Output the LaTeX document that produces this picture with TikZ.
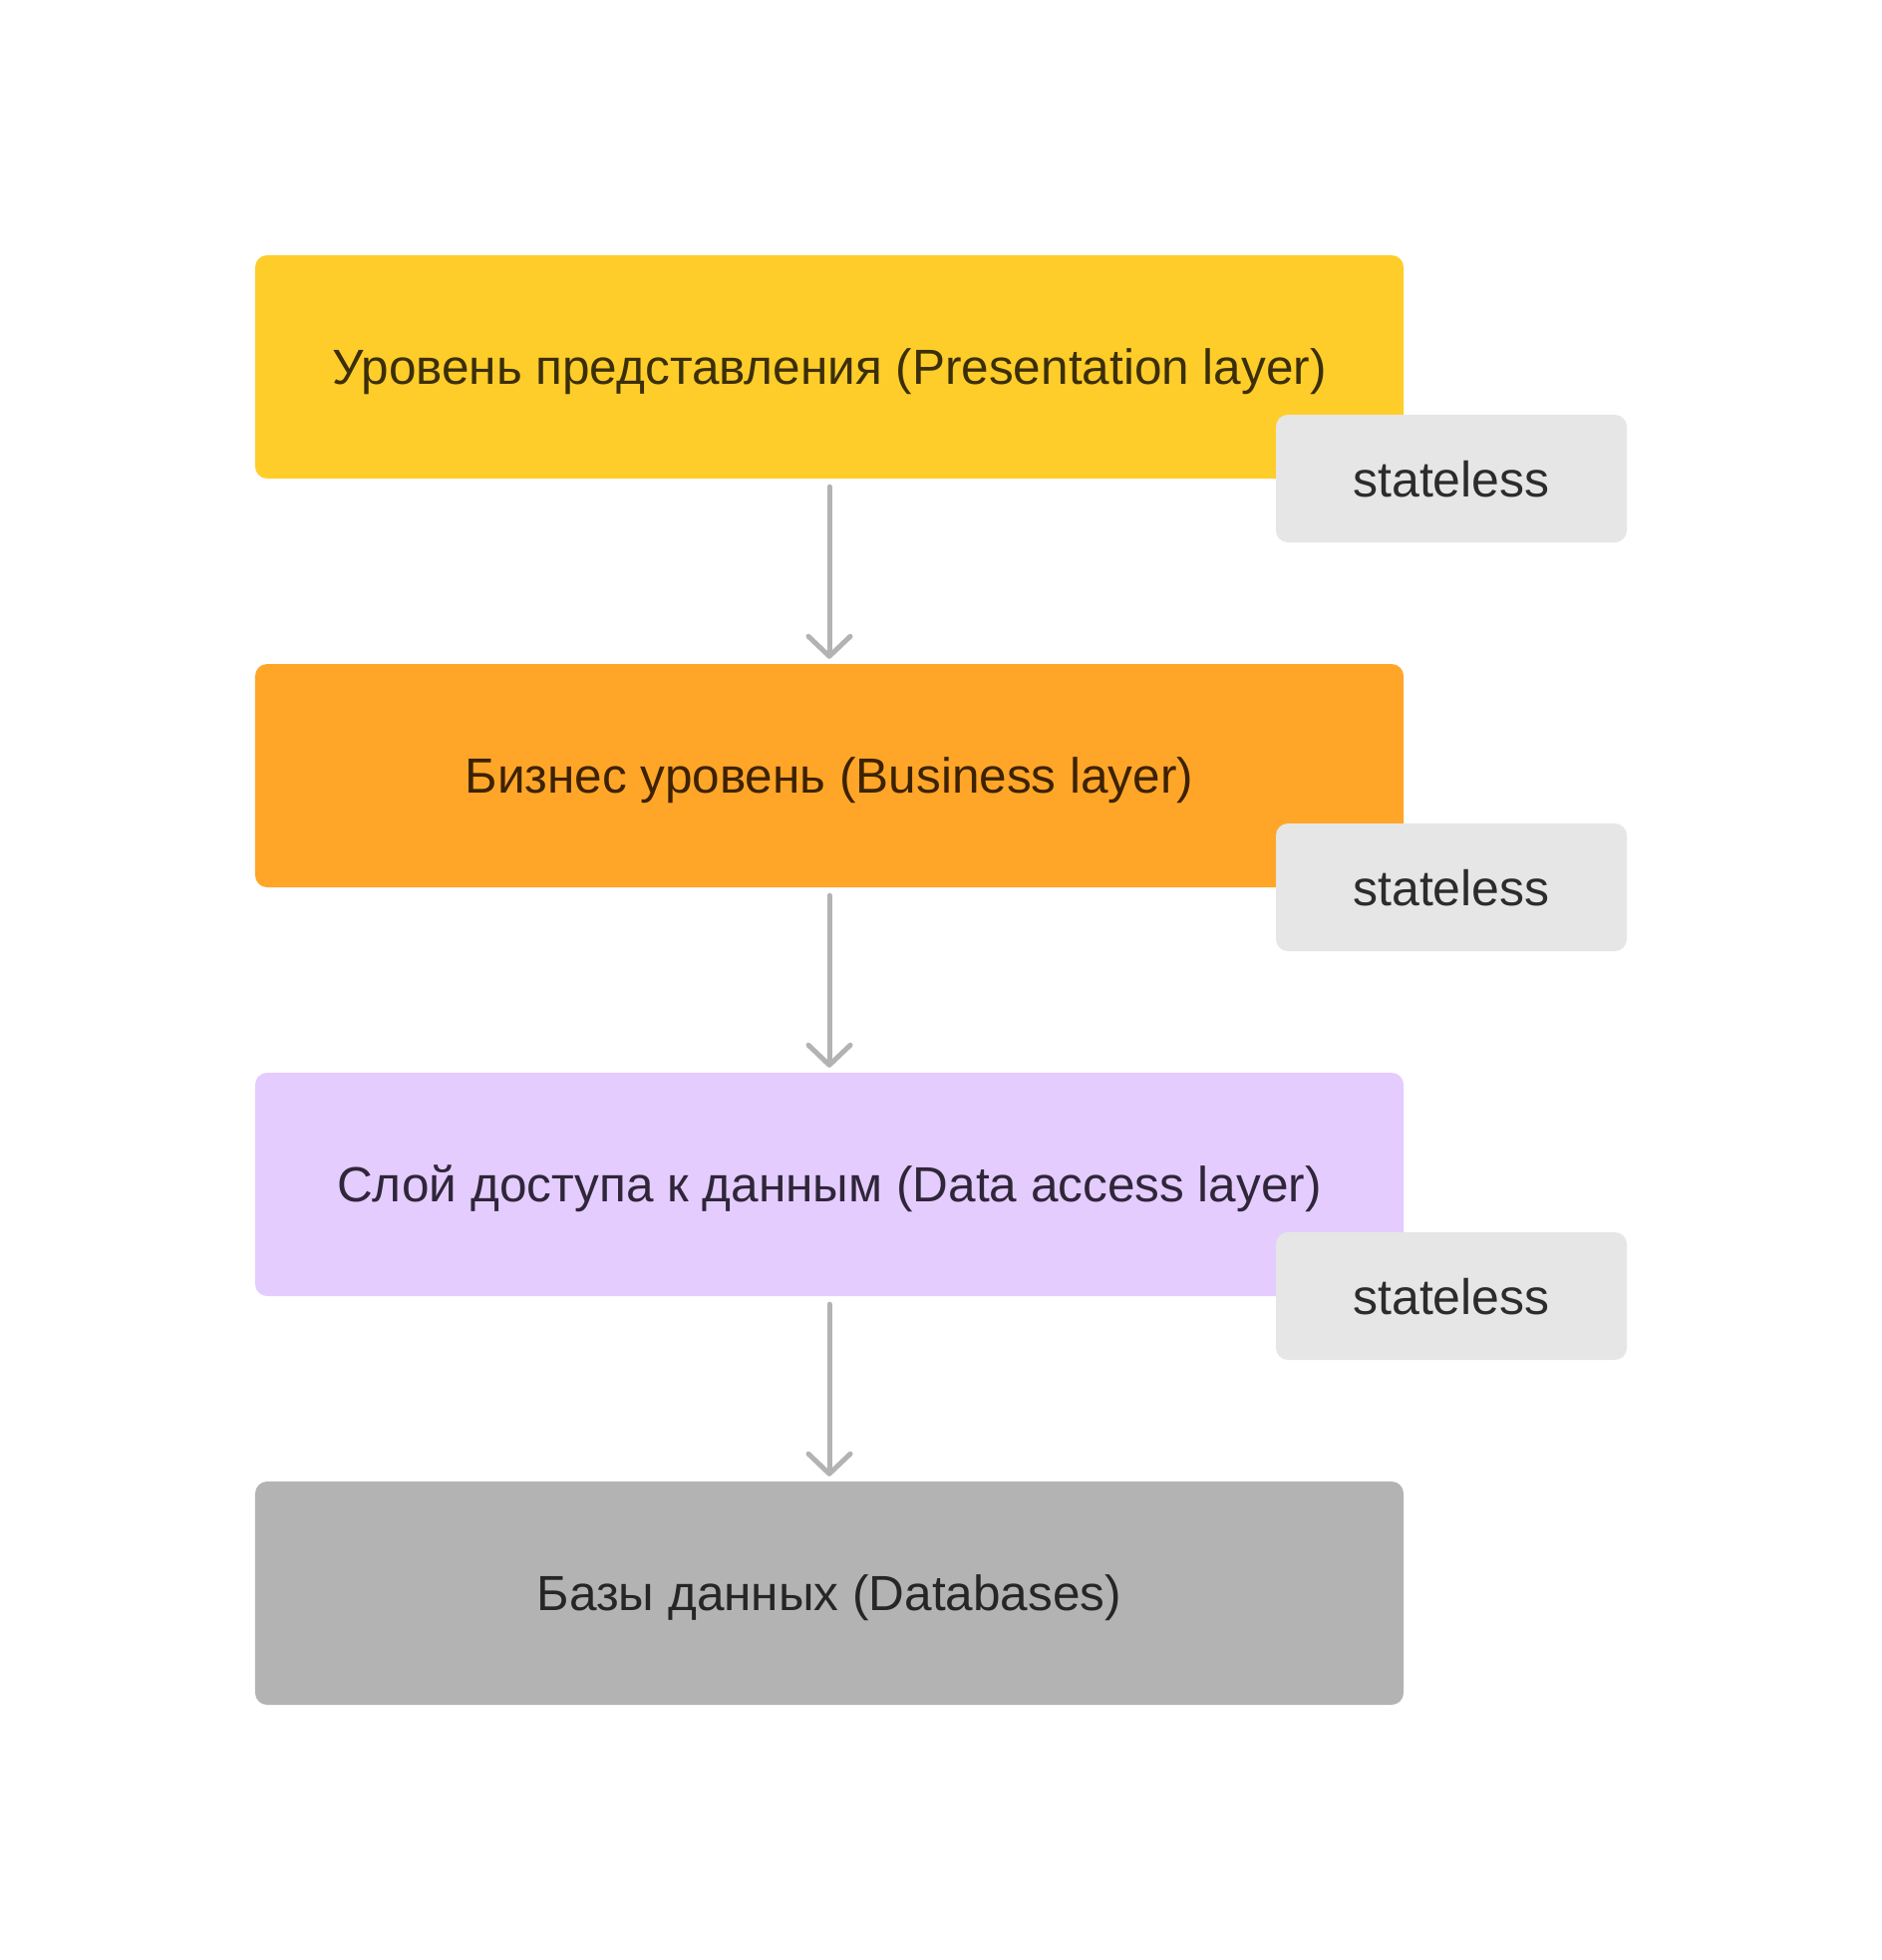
\documentclass[tikz,border=0pt]{standalone}
\usepackage{fontspec}
\setmainfont{Liberation Sans}
\usetikzlibrary{arrows.meta}
\definecolor{cyellow}{HTML}{FFCD29}
\definecolor{corange}{HTML}{FFA629}
\definecolor{cpurple}{HTML}{E4CCFF}
\definecolor{cgray}{HTML}{B3B3B3}
\definecolor{clight}{HTML}{E6E6E6}
\definecolor{tyellow}{HTML}{3B2F0A}
\definecolor{torange}{HTML}{3D2200}
\definecolor{tpurple}{HTML}{2F2639}
\definecolor{tgray}{HTML}{262626}
\definecolor{ttag}{HTML}{2C2C2C}
\begin{document}
\begin{tikzpicture}[x=1bp,y=-1bp,
  layerbox/.style={rounded corners=12bp, minimum width=1152bp, minimum height=224bp,
    inner sep=0pt, text height=35bp, text depth=0pt,
    font=\fontsize{49.5bp}{58bp}\selectfont},
  tagbox/.style={fill=clight, rounded corners=12bp, minimum width=352bp, minimum height=128bp,
    inner sep=0pt, text height=36bp, text depth=0pt, text=ttag,
    font=\fontsize{50bp}{60bp}\selectfont},
  flow/.style={draw=cgray, line width=5bp, line cap=round,
    -{Straight Barb[length=20bp, width=42bp, round]},
    shorten <=8bp, shorten >=5bp}]
\useasboundingbox (0,0) rectangle (1888,1966);
\fill[white] (0,0) rectangle (1888,1966);
\node[layerbox, fill=cyellow, text=tyellow] (pres) at (832,368) {Уровень представления (Presentation layer)};
\node[layerbox, fill=corange, text=torange] (bus) at (832,778) {Бизнес уровень (Business layer)};
\node[layerbox, fill=cpurple, text=tpurple] (dal) at (832,1188) {Слой доступа к данным (Data access layer)};
\node[layerbox, fill=cgray, text=tgray] (db) at (832,1598) {Базы данных (Databases)};
\node[tagbox] (t1) at (1456,480) {stateless};
\node[tagbox] (t2) at (1456,890) {stateless};
\node[tagbox] (t3) at (1456,1300) {stateless};
\draw[flow] (pres.south) -- (bus.north);
\draw[flow] (bus.south) -- (dal.north);
\draw[flow] (dal.south) -- (db.north);
\end{tikzpicture}
\end{document}
